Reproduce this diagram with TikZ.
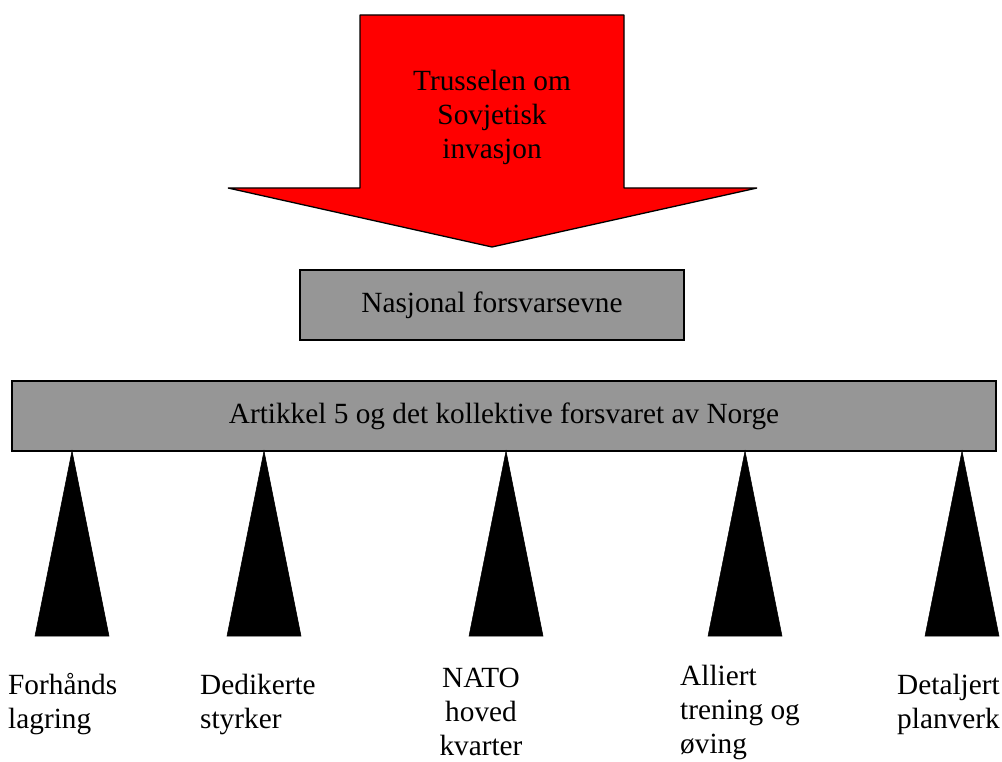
\documentclass[tikz,border=0pt]{standalone}
\usepackage{fontspec}
\setmainfont{Liberation Serif}
\usetikzlibrary{calc}
\begin{document}
\begin{tikzpicture}[x=1pt,y=-1pt,
  txt/.style={font=\fontsize{29.3}{34}\selectfont, inner sep=0pt},
  greybox/.style={draw=black, line width=1.6pt, fill=boxgrey, minimum width=#1, inner sep=0pt},
  peg/.style={fill=black, draw=black, line width=0.5pt},
  lbl/.style={txt, align=left, anchor=west},
]
\definecolor{boxgrey}{RGB}{150,150,150}
\definecolor{arrowred}{RGB}{255,0,0}
\useasboundingbox (0,0) rectangle (1002,762);
% big arrow
\draw[fill=arrowred, draw=black, line width=1.3pt, line join=bevel]
  (360,15) -- (624,15) -- (624,188) -- (757,188) -- (492,247) -- (228,188) -- (360,188) -- cycle;
\node[txt, align=center] (threat) at (492,117) {Trusselen om\\Sovjetisk\\invasjon};
% boxes
\node[greybox=384pt, minimum height=70pt] (nasj) at (492,305) {};
\node[txt] (nasjt) at (nasj.center) {Nasjonal forsvarsevne};
\node[greybox=984pt, minimum height=70pt] (art) at (504,416) {};
\node[txt] (artt) at (art.center) {Artikkel 5 og det kollektive forsvaret av Norge};
% pillars
\foreach \x/\n in {72/p1, 264/p2, 506/p3, 745/p4, 962/p5}{
  \coordinate (\n) at (\x,451);
  \fill[peg] (\n) -- ($(\n)+(37,185)$) -- ($(\n)+(-37,185)$) -- cycle;
}
% labels
\node[lbl] (l1) at (8,704) {Forhånds\\lagring};
\node[lbl] (l2) at (200,704) {Dedikerte\\styrker};
\node[txt, align=center] (l3) at (481,712) {NATO\\hoved\\kvarter};
\node[lbl] (l4) at (680,712) {Alliert\\trening og\\øving};
\node[lbl] (l5) at (897,704) {Detaljert\\planverk};
\end{tikzpicture}
\end{document}
